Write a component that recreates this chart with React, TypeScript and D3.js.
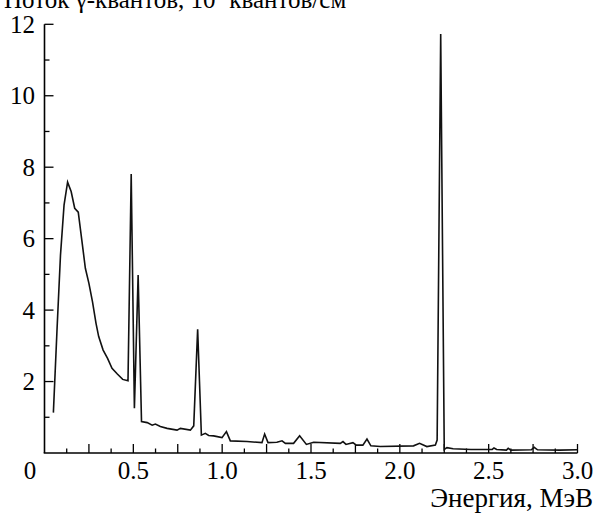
import React, { useEffect, useRef } from 'react';
import * as d3 from 'd3';

// energy, MeV
const energies = [
  0.05, 0.07, 0.09, 0.11, 0.13, 0.15, 0.17, 0.19, 0.21, 0.23, 0.25, 0.27, 0.29, 0.305,
  0.33, 0.355, 0.38, 0.41, 0.44, 0.47, 0.488, 0.506, 0.527, 0.546, 0.578, 0.606, 0.624,
  0.652, 0.69, 0.746, 0.765, 0.821, 0.84, 0.862, 0.883, 0.905, 0.924, 0.952, 0.999,
  1.024, 1.046, 1.14, 1.224, 1.239, 1.258, 1.308, 1.337, 1.356, 1.402, 1.436, 1.474,
  1.515, 1.665, 1.68, 1.697, 1.736, 1.755, 1.792, 1.815, 1.837, 1.89, 2.077, 2.111,
  2.152, 2.2, 2.21, 2.23, 2.25, 2.265, 2.3, 2.4, 2.52, 2.53, 2.545, 2.6, 2.61, 2.625,
  2.74, 2.756, 2.775, 2.9, 3.0,
];

// gamma flux
const flux = [
  1.13, 3.4, 5.54, 6.94, 7.58, 7.32, 6.85, 6.74, 5.96, 5.17, 4.75, 4.24, 3.63, 3.26,
  2.88, 2.65, 2.37, 2.21, 2.06, 2.02, 7.81, 1.25, 4.98, 0.88, 0.85, 0.78, 0.81,
  0.74, 0.69, 0.64, 0.69, 0.64, 0.76, 3.46, 0.5, 0.55, 0.49, 0.48, 0.43,
  0.6, 0.34, 0.32, 0.29, 0.53, 0.29, 0.3, 0.34, 0.27, 0.27, 0.48, 0.24,
  0.3, 0.27, 0.32, 0.24, 0.29, 0.22, 0.22, 0.39, 0.2, 0.18, 0.2, 0.27,
  0.18, 0.22, 0.36, 11.73, 0.1, 0.15, 0.12, 0.1, 0.1, 0.14, 0.1, 0.08, 0.13, 0.08,
  0.09, 0.16, 0.09, 0.08, 0.09,
];

const xTickLabels = ['0.5', '1.0', '1.5', '2.0', '2.5', '3.0'];
const yTickLabels = ['2', '4', '6', '8', '10', '12'];

const App = () => {
  const svgRef = useRef<SVGSVGElement>(null);

  useEffect(() => {
    document.body.style.margin = '0';
    const svg = d3.select(svgRef.current);
    svg.selectAll('*').remove();

    const width = 596;
    const height = 516;
    const font = 'Liberation Serif';

    const x = d3.scaleLinear().domain([0, 3]).range([44.5, 577.5]);
    const y = d3.scaleLinear().domain([0, 12]).range([453, 24.3]);

    svg.attr('width', width).attr('height', height)
      .attr('font-family', font);

    // title (cut off at the top, as in the source figure)
    const title = svg.append('text')
      .attr('x', 4)
      .attr('y', 8)
      .attr('font-size', 25);
    title.append('tspan').text('Поток γ-квантов, 10');
    title.append('tspan').attr('dy', -9).attr('font-size', 15).text('4');
    title.append('tspan').attr('dy', 9).text(' квантов/см');
    title.append('tspan').attr('dy', -9).attr('font-size', 15).text('2');

    const g = svg.append('g');

    // axis lines
    g.append('line')
      .attr('x1', x(0)).attr('x2', x(0))
      .attr('y1', y(12)).attr('y2', y(0))
      .attr('stroke', '#000').attr('stroke-width', 1.6);
    g.append('line')
      .attr('x1', x(0) - 0.8).attr('x2', x(3))
      .attr('y1', y(0)).attr('y2', y(0))
      .attr('stroke', '#000').attr('stroke-width', 1.6);

    // x ticks, every 0.125 MeV, long at 0.25
    const xTicks = d3.range(1, 25).map(i => i * 0.125);
    g.selectAll('.xtick')
      .data(xTicks)
      .enter()
      .append('line')
      .attr('x1', d => x(d)).attr('x2', d => x(d))
      .attr('y1', y(0))
      .attr('y2', (d, i) => y(0) - (i % 2 === 1 ? 9 : 4.5))
      .attr('stroke', '#000').attr('stroke-width', 1.3);

    // y ticks, every 1, long at even
    const yTicks = d3.range(1, 13);
    g.selectAll('.ytick')
      .data(yTicks)
      .enter()
      .append('line')
      .attr('x1', x(0)).attr('x2', d => x(0) + (d % 2 === 0 ? 9 : 5))
      .attr('y1', d => y(d)).attr('y2', d => y(d))
      .attr('stroke', '#000').attr('stroke-width', 1.3);

    // tick labels
    g.selectAll('.xlabel')
      .data(xTickLabels)
      .enter()
      .append('text')
      .attr('x', d => x(+d))
      .attr('y', 479)
      .attr('text-anchor', 'middle')
      .attr('font-size', 25)
      .text(d => d);

    g.append('text')
      .attr('x', 30)
      .attr('y', 479)
      .attr('text-anchor', 'middle')
      .attr('font-size', 25)
      .text('0');

    g.selectAll('.ylabel')
      .data(yTickLabels)
      .enter()
      .append('text')
      .attr('x', 35)
      .attr('y', d => y(+d) + 8.5)
      .attr('text-anchor', 'end')
      .attr('font-size', 25)
      .text(d => d);

    g.append('text')
      .attr('x', 593)
      .attr('y', 507)
      .attr('text-anchor', 'end')
      .attr('font-size', 27)
      .text('Энергия, МэВ');

    // spectrum
    const points = energies.map((e, i) => [e, flux[i]] as [number, number]);
    const line = d3.line<[number, number]>()
      .x(d => x(d[0]))
      .y(d => y(d[1]));

    g.append('path')
      .datum(points)
      .attr('d', line)
      .attr('fill', 'none')
      .attr('stroke', '#111')
      .attr('stroke-width', 1.6);
  }, []);

  return <svg ref={svgRef} style={{ display: 'block' }}></svg>;
};

export default App;
